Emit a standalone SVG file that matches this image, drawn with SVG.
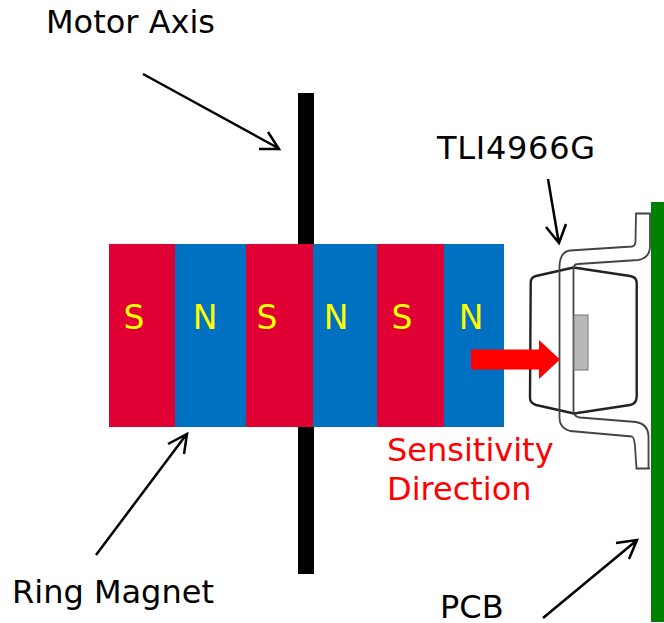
<svg xmlns="http://www.w3.org/2000/svg" width="664" height="623" viewBox="0 0 664 623">
<style>
text{font-family:"DejaVu Sans",Verdana,sans-serif;font-size:32px;fill:#000}
.pole{fill:#ff0;text-anchor:middle;font-size:33px}
.red{fill:#e10033}.blue{fill:#0070c0}
.ptr{fill:none;stroke:#000;stroke-width:2.5}
.pk{fill:none;stroke:#444;stroke-width:1.8}
</style>
<rect width="664" height="623" fill="#fff"/>
<g id="motor-axis"><rect x="298" y="93" width="16" height="481" fill="#000"/></g>
<g id="ring-magnet">
<rect class="red" x="109" y="244" width="66" height="183"/>
<rect class="blue" x="175" y="244" width="71" height="183"/>
<rect class="red" x="246" y="244" width="67" height="183"/>
<rect class="blue" x="313" y="244" width="64" height="183"/>
<rect class="red" x="377" y="244" width="67" height="183"/>
<rect class="blue" x="444" y="244" width="60" height="183"/>
<text class="pole" x="134" y="329">S</text>
<text class="pole" x="205" y="329">N</text>
<text class="pole" x="267" y="329">S</text>
<text class="pole" x="336" y="329">N</text>
<text class="pole" x="402" y="329">S</text>
<text class="pole" x="471" y="329">N</text>
</g>
<g id="pcb"><rect x="651" y="202" width="13" height="420" fill="#008000"/></g>
<g id="sensor">
<path fill="none" stroke="#222" stroke-width="2.4" stroke-linejoin="round" d="M573.5 267.5L630 276Q636.7 277 636.7 283V396Q636.7 404 630 405L574 413.5L536 405Q530 403 530 398L530.7 283Q530.7 277 536 276Z"/>
<path class="pk" d="M559.5 267V418Q559.500 428 570 431L632 436.500Q634 437 635 446L636.500 468.500H650"/>
<path class="pk" d="M573.500 268V413.500"/>
<path class="pk" d="M559.500 267Q559.500 252 570 250.500L632 246.500Q635.500 246 635.500 241L636 213.500H650V246Q650 258 638 260L578 264Q574 264 573.500 268"/>
<path class="pk" d="M574 414Q576 417 580 417.500L636 422Q648 424 648.500 436V468.500"/>
<rect x="574" y="315" width="14" height="55" fill="#b8b8b8" stroke="#777" stroke-width="1"/>
</g>
<g id="connectors">
<path class="ptr" d="M143 74L278 148M268 132L279 149L259 149"/>
<path class="ptr" d="M548 179L558.500 241M546 227L559 243L566 224"/>
<path class="ptr" d="M96 555L186 435M168 444L187 434L184 454"/>
<path class="ptr" d="M543 618L636 541M616 543L637 540L629 559"/>
<path id="sensitivity-arrow" fill="#f00" d="M471 349.500H539V340L560 359.500L539 379V369.500H471Z"/>
</g>
<g id="labels">
<text x="46" y="33">Motor Axis</text>
<text x="437" y="158.500" textLength="158">TLI4966G</text>
<text x="12" y="603">Ring Magnet</text>
<text x="440" y="618">PCB</text>
<text x="387" y="461" style="fill:#f00">Sensitivity</text>
<text x="387" y="500" style="fill:#f00">Direction</text>
</g>
</svg>
